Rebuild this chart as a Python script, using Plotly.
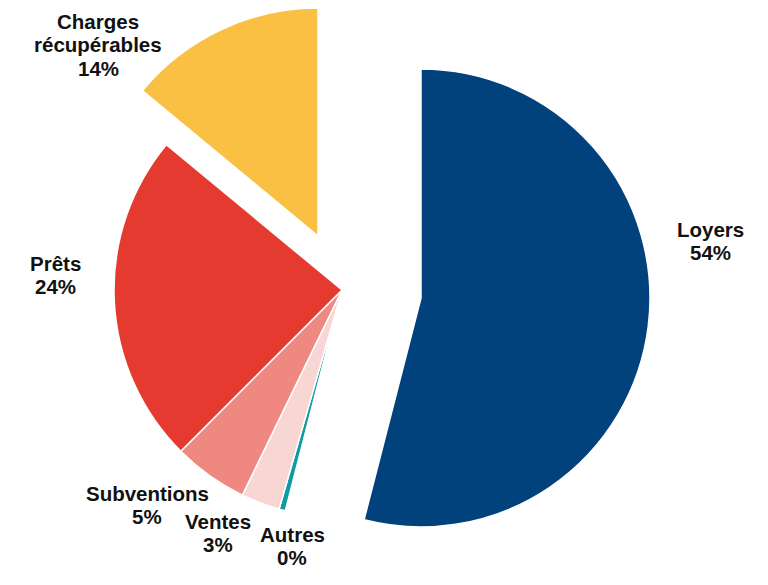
import plotly.graph_objects as go

W, H = 768, 585

# Data (clockwise from 12 o'clock)
labels = ["Loyers", "Autres", "Ventes", "Subventions", "Prêts", "Charges récupérables"]
values = [54, 0.45, 2.75, 5.3, 23.5, 14]
shown_pct = ["54%", "0%", "3%", "5%", "24%", "14%"]
colors = ["#02427C", "#0E9BA2", "#F8D6D4", "#EF8880", "#E53A30", "#F9C043"]

# label text lines
label_lines = [["Loyers"], ["Autres"], ["Ventes"], ["Subventions"], ["Prêts"], ["Charges", "récupérables"]]

# exploded groups: (slice indices drawn, pie centre px, radius px)
groups = [
    ([1, 2, 3, 4], (342, 290), 228),
    ([0], (421, 298), 229),
    ([5], (318, 236), 228),
]

fig = go.Figure()
for idxs, (cx, cy), r in groups:
    cols = [colors[i] if i in idxs else "rgba(0,0,0,0)" for i in range(len(values))]
    lw = [1.5 if i in idxs else 0 for i in range(len(values))]
    fig.add_trace(go.Pie(
        labels=labels, values=values, sort=False, direction="clockwise", rotation=0,
        marker=dict(colors=cols, line=dict(color="white", width=lw)),
        textinfo="none", hoverinfo="label+percent", showlegend=False,
        domain=dict(x=[(cx - r) / W, (cx + r) / W],
                    y=[(H - cy - r) / H, (H - cy + r) / H]),
    ))

# label block centres (px) and line spacing
label_pos = [(710, 241), (292, 546), (218, 533), (147, 505), (55, 275), (98, 45)]
LINE = 23.5
for i, (x, y) in enumerate(label_pos):
    lines = label_lines[i] + [shown_pct[i]]
    n = len(lines)
    for k, t in enumerate(lines):
        yy = y + (k - (n - 1) / 2) * LINE
        fig.add_annotation(
            x=x / W, y=1 - yy / H, xref="paper", yref="paper",
            text=f"<b>{t}</b>", showarrow=False,
            font=dict(family="Liberation Sans, Arial", size=20.5, color="#111111"),
            align="center", xanchor="center", yanchor="middle",
        )

fig.update_layout(width=W, height=H, margin=dict(l=0, r=0, t=0, b=0),
                  paper_bgcolor="white", plot_bgcolor="white")
fig.write_html("out.html")
